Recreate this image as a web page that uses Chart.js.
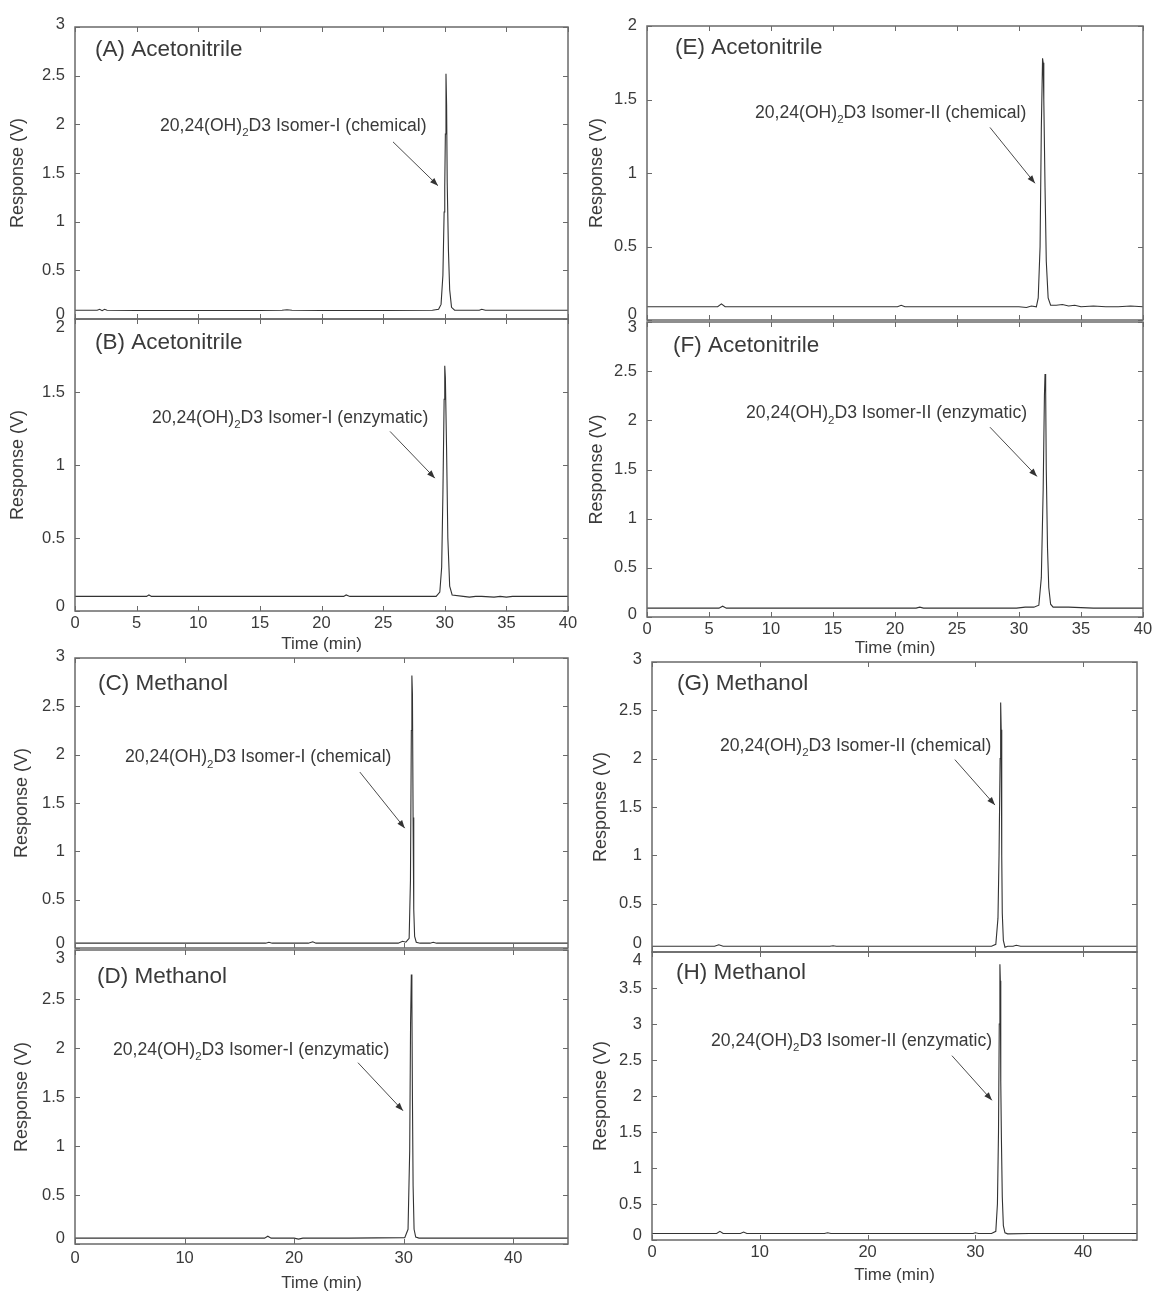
<!DOCTYPE html>
<html><head><meta charset="utf-8">
<script src="https://cdn.jsdelivr.net/npm/chart.js@4/dist/chart.umd.min.js"></script>
<style>
html,body{margin:0;padding:0;background:#fff;}
#wrap{position:relative;width:1156px;height:1293px;overflow:hidden;background:#fff;}
canvas{position:absolute;}
</style></head><body><div id="wrap"></div>
<script>
// ---------- data (time in min, response in V) ----------
const timeA=[0,1.8,2.0,2.2,2.4,2.6,5,10,15,16.8,17.2,17.6,20,25,29.0,29.5,29.7,29.85,29.95,30.0,30.05,30.1,30.15,30.2,30.3,30.4,30.55,30.8,32.8,33.0,33.3,35,40];
const respA=[0.09,0.09,0.1,0.085,0.1,0.09,0.088,0.087,0.088,0.09,0.095,0.09,0.088,0.088,0.09,0.1,0.15,0.45,1.1,1.36,1.9,2.52,2.2,1.4,0.7,0.3,0.12,0.09,0.09,0.1,0.09,0.09,0.09];

const timeB=[0,5.8,6.0,6.2,10,15,21.8,22.0,22.3,25,29.3,29.6,29.75,29.85,29.95,30.0,30.05,30.15,30.25,30.4,30.6,31.5,32.0,32.5,33,34.0,34.5,35.0,35.5,37,40];
const respB=[0.1,0.1,0.11,0.1,0.1,0.1,0.1,0.11,0.1,0.1,0.1,0.13,0.3,0.8,1.45,1.68,1.6,1.1,0.5,0.17,0.11,0.1,0.095,0.1,0.1,0.095,0.1,0.095,0.1,0.1,0.1];

const timeC=[0,10,17.4,17.7,18.0,20,21.3,21.7,22.0,25,29.5,29.9,30.2,30.5,30.62,30.7,30.75,30.8,30.86,30.92,31.0,31.15,31.5,32.4,32.7,33,40,45];
const respC=[0.05,0.05,0.05,0.06,0.05,0.05,0.05,0.065,0.05,0.05,0.05,0.07,0.06,0.1,0.7,2.25,2.82,2.63,1.35,0.4,0.12,0.06,0.05,0.05,0.06,0.05,0.05,0.05];

const timeD=[0,6,10,17.3,17.6,17.9,20,20.4,20.8,21.1,25,30.1,30.4,30.55,30.63,30.7,30.75,30.8,30.86,30.95,31.1,31.4,35,45];
const respD=[0.06,0.06,0.06,0.06,0.08,0.06,0.06,0.05,0.06,0.06,0.06,0.065,0.15,0.95,2.25,2.75,2.5,1.5,0.6,0.15,0.07,0.06,0.06,0.06];

const timeE=[0,5.7,6.0,6.3,10,15,20.2,20.5,20.8,25,30,30.6,31.0,31.4,31.55,31.7,31.8,31.9,31.95,32.0,32.1,32.2,32.35,32.55,33.0,33.5,34.0,34.5,35.0,36.0,37.0,38.0,39.0,40];
const respE=[0.09,0.09,0.11,0.09,0.09,0.09,0.09,0.1,0.09,0.09,0.09,0.085,0.095,0.09,0.15,0.5,1.3,1.78,1.75,1.5,0.9,0.4,0.15,0.1,0.1,0.105,0.095,0.1,0.09,0.095,0.09,0.09,0.095,0.09];

const timeF=[0,5.8,6.1,6.4,10,15,21.7,22.0,22.3,25,29.8,30.5,31.2,31.6,31.8,31.95,32.05,32.1,32.15,32.2,32.3,32.4,32.55,32.75,33.0,34.0,35.0,36.0,39.0,40];
const respF=[0.09,0.09,0.11,0.09,0.09,0.09,0.09,0.1,0.09,0.09,0.09,0.1,0.1,0.12,0.4,1.3,2.25,2.47,2.3,1.5,0.7,0.3,0.13,0.1,0.1,0.1,0.095,0.09,0.09,0.09];

const timeG=[0,5.8,6.2,6.6,10,16.5,16.8,17.1,20,25,30,31.5,31.9,32.1,32.2,32.3,32.35,32.4,32.45,32.5,32.6,32.75,33.0,33.5,33.8,34.2,40,45];
const respG=[0.06,0.06,0.075,0.06,0.06,0.06,0.065,0.06,0.06,0.06,0.06,0.06,0.08,0.35,1.0,2.0,2.58,2.3,1.0,0.4,0.12,0.05,0.06,0.06,0.07,0.06,0.06,0.06];

const timeH=[0,6.0,6.3,6.6,8.2,8.5,8.8,10,16.0,16.3,16.6,20,25,29.8,30.0,30.3,31.5,31.9,32.05,32.15,32.22,32.28,32.32,32.36,32.42,32.5,32.6,32.75,33.0,35,40,45];
const respH=[0.09,0.09,0.12,0.09,0.09,0.11,0.09,0.09,0.09,0.1,0.09,0.09,0.09,0.09,0.1,0.09,0.09,0.12,0.5,1.5,3.0,3.83,3.6,2.2,1.4,0.6,0.2,0.1,0.085,0.09,0.09,0.09];

// ---------- tick labels ----------
const xTicksAcn=[0,5,10,15,20,25,30,35,40];
const xTicksMeOH=[0,10,20,30,40];
const yTicks2=[0,0.5,1,1.5,2];
const yTicks3=[0,0.5,1,1.5,2,2.5,3];
const yTicks4=[0,0.5,1,1.5,2,2.5,3,3.5,4];

// ---------- text ----------
const panelLabels=['(A) Acetonitrile','(B) Acetonitrile','(C) Methanol','(D) Methanol','(E) Acetonitrile','(F) Acetonitrile','(G) Methanol','(H) Methanol'];
const noteTails=['D3 Isomer-I (chemical)','D3 Isomer-I (enzymatic)','D3 Isomer-I (chemical)','D3 Isomer-I (enzymatic)','D3 Isomer-II (chemical)','D3 Isomer-II (enzymatic)','D3 Isomer-II (chemical)','D3 Isomer-II (enzymatic)'];

const FONT='"Liberation Sans", Arial, Helvetica, sans-serif';
const TEXT='#3a3a3a';

// layout of each panel (plot rect in page px) + annotation anchors (data units)
const panels=[
 {t:timeA,r:respA,xT:xTicksAcn,yT:yTicks3,xMax:40,yMax:3,rect:[75,27,568,319],col:0,xl:false,lab:0,labOff:[20,23],yPad:7.2,sh:[-5,-3],
  note:{x:6.9,y:1.98,from:[25.8,1.82],to:[29.45,1.37]}},
 {t:timeB,r:respB,xT:xTicksAcn,yT:yTicks2,xMax:40,yMax:2,rect:[75,319,568,611],col:0,xl:true,xH:44,xPad:3,lab:1,labOff:[20,24],yPad:7.2,sh:[-5,8],
  note:{x:6.25,y:1.32,from:[25.56,1.23],to:[29.2,0.91]}},
 {t:timeC,r:respC,xT:xTicksMeOH,yT:yTicks3,xMax:45,yMax:3,rect:[75,658,568,948],col:0,xl:false,lab:2,labOff:[23,26],yPad:11.2,sh:[-5,-2],
  note:{x:4.56,y:1.97,from:[26.0,1.82],to:[30.1,1.24]}},
 {t:timeD,r:respD,xT:xTicksMeOH,yT:yTicks3,xMax:45,yMax:3,rect:[75,950,568,1244],col:0,xl:true,xH:50,xPad:5,lab:3,labOff:[22,27],yPad:11.2,sh:[-6,8],
  note:{x:3.47,y:1.98,from:[25.83,1.85],to:[29.94,1.36]}},
 {t:timeE,r:respE,xT:xTicksAcn,yT:yTicks2,xMax:40,yMax:2,rect:[647,26,1143,320],col:580,xl:false,lab:4,labOff:[28,22],yPad:6.2,sh:[-6,-1],
  note:{x:8.71,y:1.41,from:[27.66,1.31],to:[31.29,0.93]}},
 {t:timeF,r:respF,xT:xTicksAcn,yT:yTicks3,xMax:40,yMax:3,rect:[647,322,1143,617],col:580,xl:true,xH:42,xPad:3,lab:5,labOff:[26,24],yPad:6.2,sh:[-3,5],
  note:{x:7.98,y:2.07,from:[27.66,1.93],to:[31.45,1.43]}},
 {t:timeG,r:respG,xT:xTicksMeOH,yT:yTicks3,xMax:45,yMax:3,rect:[652,662,1137,952],col:580,xl:false,lab:6,labOff:[25,22],yPad:10.2,sh:[-9,-3],
  note:{x:6.31,y:2.13,from:[28.1,1.99],to:[31.82,1.52]}},
 {t:timeH,r:respH,xT:xTicksMeOH,yT:yTicks4,xMax:45,yMax:4,rect:[652,952,1137,1240],col:580,xl:true,xH:46,xPad:3,lab:7,labOff:[24,21],yPad:10.2,sh:[-5,8],
  note:{x:5.47,y:2.76,from:[27.83,2.56],to:[31.54,1.94]}}
];

function makeDecor(p){
  return {
    id:'decor',
    beforeDraw(chart){
      const ys=chart.scales.y;
      const items=ys.getLabelItems();
      if(items.length){
        items[0].options.translation[1]=ys.getPixelForValue(ys.ticks[0].value)+p.sh[0];
        const n=items.length-1;
        items[n].options.translation[1]=ys.getPixelForValue(ys.ticks[n].value)+p.sh[1];
      }
    },
    afterDatasetsDraw(chart){
      const ctx=chart.ctx, a=chart.chartArea, xs=chart.scales.x, ys=chart.scales.y;
      ctx.save();
      ctx.strokeStyle='#6a6a6a'; ctx.lineWidth=1.5;
      ctx.strokeRect(a.left,a.top,a.right-a.left,a.bottom-a.top);
      ctx.lineWidth=1; ctx.strokeStyle='#6a6a6a';
      ctx.beginPath();
      xs.ticks.forEach(t=>{const px=Math.round(xs.getPixelForValue(t.value))+0.5;
        ctx.moveTo(px,a.bottom);ctx.lineTo(px,a.bottom-5);ctx.moveTo(px,a.top);ctx.lineTo(px,a.top+5);});
      ys.ticks.forEach(t=>{const py=Math.round(ys.getPixelForValue(t.value))+0.5;
        ctx.moveTo(a.left,py);ctx.lineTo(a.left+5,py);ctx.moveTo(a.right,py);ctx.lineTo(a.right-5,py);});
      ctx.stroke();
      ctx.fillStyle=TEXT; ctx.textBaseline='middle'; ctx.textAlign='left';
      ctx.font='22.5px '+FONT;
      ctx.fillText(panelLabels[p.lab],a.left+p.labOff[0],a.top+p.labOff[1]);
      const n=p.note;
      const tx=xs.getPixelForValue(n.x), ty=ys.getPixelForValue(n.y);
      ctx.font='17.6px '+FONT;
      ctx.fillText('20,24(OH)',tx,ty);
      let w=ctx.measureText('20,24(OH)').width;
      ctx.font='11.5px '+FONT;
      ctx.fillText('2',tx+w,ty+7);
      w+=ctx.measureText('2').width;
      ctx.font='17.6px '+FONT;
      ctx.fillText(noteTails[p.lab],tx+w,ty);
      const x1=xs.getPixelForValue(n.from[0]), y1=ys.getPixelForValue(n.from[1]);
      const x2=xs.getPixelForValue(n.to[0]), y2=ys.getPixelForValue(n.to[1]);
      ctx.strokeStyle='#4a4a4a'; ctx.lineWidth=1;
      ctx.beginPath(); ctx.moveTo(x1,y1); ctx.lineTo(x2,y2); ctx.stroke();
      const ang=Math.atan2(y2-y1,x2-x1), L=8, W=3;
      ctx.fillStyle='#333';
      ctx.beginPath(); ctx.moveTo(x2,y2);
      ctx.lineTo(x2-L*Math.cos(ang)+W*Math.sin(ang), y2-L*Math.sin(ang)-W*Math.cos(ang));
      ctx.lineTo(x2-L*Math.cos(ang)-W*Math.sin(ang), y2-L*Math.sin(ang)+W*Math.cos(ang));
      ctx.closePath(); ctx.fill();
      ctx.restore();
    }
  };
}

const wrap=document.getElementById('wrap');
const PADT=24, PADR=16, PADB=24;
panels.forEach(p=>{
  const [L,T,R,B]=p.rect;
  const cTop=T-PADT;
  const xH=p.xl?p.xH:0;
  const bottomPad=p.xl?2:PADB;
  const cH=(B-cTop)+xH+bottomPad;
  const cW=R+PADR-p.col;
  const cv=document.createElement('canvas');
  cv.width=cW; cv.height=cH;
  cv.style.left=p.col+'px'; cv.style.top=cTop+'px';
  cv.style.width=cW+'px'; cv.style.height=cH+'px';
  wrap.appendChild(cv);
  new Chart(cv.getContext('2d'),{
    type:'line',
    data:{datasets:[{data:p.t.map((t,i)=>({x:t,y:p.r[i]})),borderColor:'#333',borderWidth:1.1,pointRadius:0,tension:0,fill:false}]},
    options:{
      responsive:false,animation:false,devicePixelRatio:1,
      layout:{padding:{left:0,top:PADT,right:PADR,bottom:bottomPad}},
      plugins:{legend:{display:false},tooltip:{enabled:false}},
      events:[],
      scales:{
        x:{type:'linear',min:0,max:p.xMax,
          afterBuildTicks:s=>{s.ticks=p.xT.map(v=>({value:v}));},
          ticks:{display:p.xl,padding:p.xPad||3,color:TEXT,font:{family:FONT,size:16.5},maxRotation:0,autoSkip:false,callback:v=>String(v)},
          grid:{display:false,drawTicks:false},border:{display:false},
          title:{display:p.xl,text:'Time (min)',color:TEXT,font:{family:FONT,size:17},padding:0},
          afterFit:s=>{s.height=xH;}},
        y:{type:'linear',min:0,max:p.yMax,
          afterBuildTicks:s=>{s.ticks=p.yT.map(v=>({value:v}));},
          ticks:{padding:10,color:TEXT,font:{family:FONT,size:16.5},autoSkip:false,callback:v=>String(v)},
          grid:{display:false,drawTicks:false},border:{display:false},
          title:{display:true,text:'Response (V)',color:TEXT,font:{family:FONT,size:18},padding:{top:p.yPad,bottom:0}},
          afterFit:s=>{s.width=L-p.col;}}
      }
    },
    plugins:[makeDecor(p)]
  });
});
</script></body></html>
